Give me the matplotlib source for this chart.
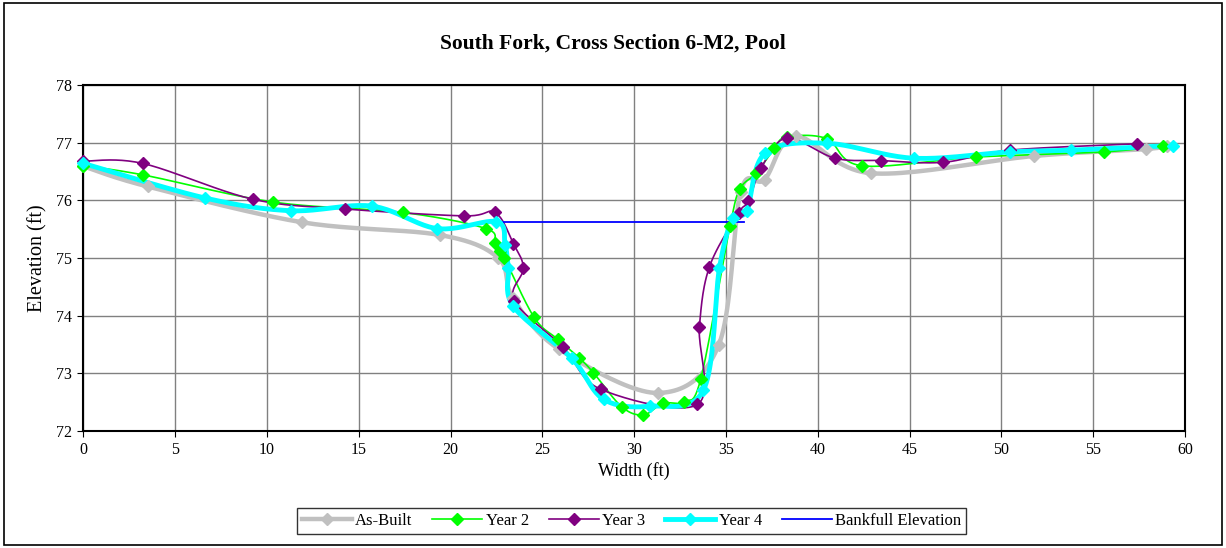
import numpy as np
import matplotlib
matplotlib.use('Agg')
import matplotlib.pyplot as plt
from matplotlib.lines import Line2D
from matplotlib.patches import Rectangle

plt.rcParams['font.family'] = ['Liberation Serif', 'DejaVu Serif']

# surveyed cross sections (width ft, elevation ft)
as_built_x = [0, 3.5, 11.9, 19.4, 22.6, 23.4, 25.9, 31.3, 34.6, 35.8, 37.1, 38.8, 42.9, 51.8, 57.9, 59.0]
as_built_y = [76.59, 76.24, 75.62, 75.40, 75.0, 74.3, 73.42, 72.66, 73.49, 76.15, 76.36, 77.11, 76.47, 76.77, 76.89, 76.95]

year2_x = [0, 3.27, 10.35, 17.4, 21.93, 22.4, 22.67, 22.93, 24.55, 25.84, 27.0, 27.78, 29.32, 30.5,
           31.56, 32.73, 33.63, 35.22, 35.77, 36.64, 37.64, 38.3, 40.49, 42.4, 48.6, 55.6, 58.8]
year2_y = [76.6, 76.44, 75.97, 75.79, 75.51, 75.26, 75.13, 75.0, 73.97, 73.59, 73.27, 73.01, 72.42, 72.28,
           72.48, 72.51, 72.91, 75.56, 76.2, 76.47, 76.9, 77.1, 77.07, 76.6, 76.75, 76.84, 76.95]

year3_x = [0, 3.23, 9.22, 14.25, 20.73, 22.42, 23.42, 23.96, 23.47, 26.14, 28.2, 33.44, 33.55, 34.1,
           35.68, 36.22, 36.91, 38.31, 40.94, 43.43, 46.84, 50.47, 57.37]
year3_y = [76.68, 76.64, 76.02, 75.85, 75.73, 75.79, 75.25, 74.82, 74.26, 73.45, 72.72, 72.46, 73.81, 74.85,
           75.78, 75.98, 76.56, 77.08, 76.73, 76.69, 76.66, 76.87, 76.98]

year4_x = [0, 6.63, 11.3, 15.7, 19.28, 22.5, 22.97, 23.15, 23.42, 26.6, 28.33, 30.87, 33.77, 34.64,
           35.37, 36.13, 37.13, 40.49, 45.24, 50.47, 53.78, 59.34]
year4_y = [76.64, 76.04, 75.82, 75.9, 75.51, 75.63, 75.23, 74.82, 74.16, 73.26, 72.55, 72.43, 72.71, 74.82,
           75.69, 75.82, 76.82, 76.99, 76.73, 76.84, 76.87, 76.95]

bankfull_x = [22.4, 36.0]
bankfull_y = [75.63, 75.63]


def smooth(x, y, n=24):
    # excel style smoothed line: bezier with control points from neighbours
    pts = np.column_stack([x, y]).astype(float)
    t = np.linspace(0, 1, n)[:, None]
    segs = []
    for i in range(len(pts) - 1):
        p0 = pts[i - 1] if i > 0 else pts[i]
        p1, p2 = pts[i], pts[i + 1]
        p3 = pts[i + 2] if i + 2 < len(pts) else pts[i + 1]
        c1 = p1 + (p2 - p0) / 6
        c2 = p2 - (p3 - p1) / 6
        segs.append((1 - t) ** 3 * p1 + 3 * (1 - t) ** 2 * t * c1 + 3 * (1 - t) * t ** 2 * c2 + t ** 3 * p2)
    seg = np.vstack(segs)
    return seg[:, 0], seg[:, 1]


fig = plt.figure(figsize=(12.26, 5.48), dpi=100)
ax = fig.add_axes([0.068, 0.2135, 0.8986, 0.6314])

series = [
    (as_built_x, as_built_y, '#C0C0C0', 3.2, 'As-Built'),
    (year2_x, year2_y, '#00FF00', 1.2, 'Year 2'),
    (year3_x, year3_y, '#800080', 1.2, 'Year 3'),
    (year4_x, year4_y, '#00FFFF', 3.5, 'Year 4'),
]

handles = []
for x, y, c, lw, name in series:
    sx, sy = smooth(x, y)
    ax.plot(sx, sy, color=c, lw=lw, zorder=2, solid_capstyle='round')
    handles.append(Line2D([], [], color=c, lw=lw, marker='D', markersize=6, label=name))
for x, y, c, lw, name in series:
    ax.plot(x, y, ls='none', marker='D', markersize=6.5, color=c, zorder=3, clip_on=False)

ax.plot(bankfull_x, bankfull_y, color='#0000FF', lw=1.3, zorder=2.5)
handles.append(Line2D([], [], color='#0000FF', lw=1.3, label='Bankfull Elevation'))

ax.set_xlim(0, 60)
ax.set_ylim(72, 78)
ax.set_xticks(np.arange(0, 61, 5))
ax.set_yticks(np.arange(72, 79, 1))
ax.grid(True, color='#808080', lw=1.0)
ax.set_axisbelow(True)
ax.tick_params(direction='out', length=4.5, labelsize=11.5, colors='black')
for s in ax.spines.values():
    s.set_color('black')
    s.set_linewidth(1.5)

ax.set_xlabel('Width (ft)', fontsize=13, labelpad=3)
ax.set_ylabel('Elevation (ft)', fontsize=14.5, labelpad=6)
fig.text(0.5, 0.92, 'South Fork, Cross Section 6-M2, Pool', ha='center', va='center',
         fontsize=15.5, fontweight='bold')

leg = fig.legend(handles=handles, loc='center', bbox_to_anchor=(0.515, 0.05), ncol=5,
                 fontsize=12, frameon=True, fancybox=False, edgecolor='black',
                 handlelength=3.0, handletextpad=0.2, columnspacing=1.2, borderpad=0.3)
leg.get_frame().set_linewidth(1.0)

fig.patches.append(Rectangle((0.003, 0.005), 0.994, 0.99, transform=fig.transFigure,
                             fill=False, edgecolor='black', lw=1.2))

fig.savefig('out.png', dpi=100)
